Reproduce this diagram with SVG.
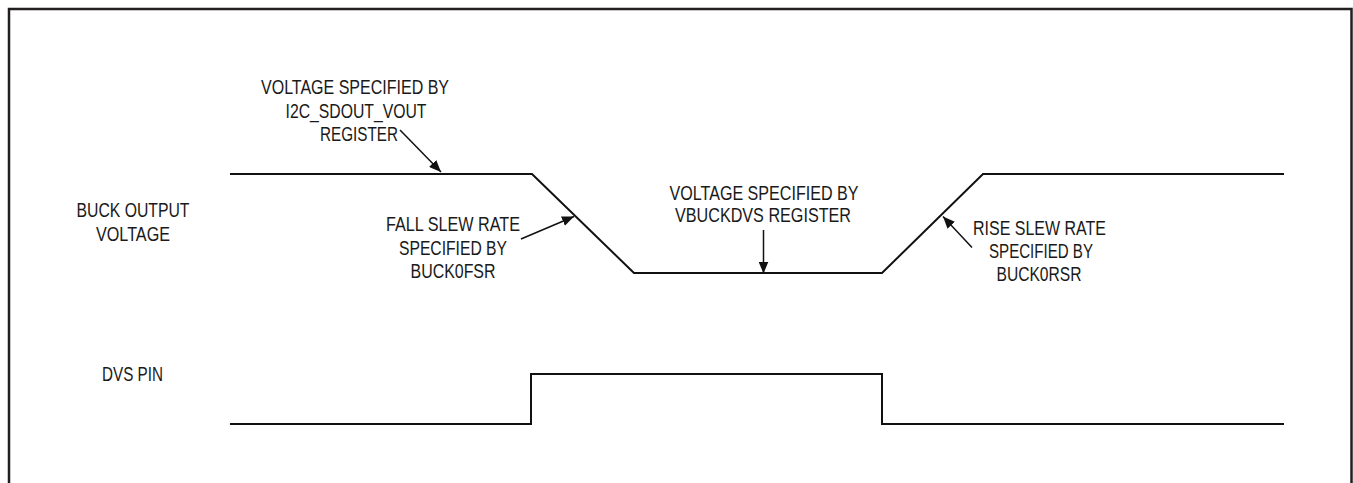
<svg xmlns="http://www.w3.org/2000/svg" width="1353" height="483" viewBox="0 0 1353 483">
<style>
.t{font-family:"Liberation Sans",Arial,sans-serif;font-size:19.5px;fill:#1a1a1a;text-anchor:middle}
.w{fill:none;stroke:#111;stroke-width:2;stroke-linejoin:miter}
.a{fill:none;stroke:#111;stroke-width:1.5}
.f{fill:none;stroke:#231f20;stroke-width:2.5}
</style>
<defs>
<marker id="ah" viewBox="0 0 12 10" refX="12" refY="5" markerWidth="12" markerHeight="10" markerUnits="userSpaceOnUse" orient="auto">
<path d="M0,0 L12,5 L0,10 Z" fill="#111"/>
</marker>
</defs>
<rect width="1353" height="483" fill="#fff"/>
<path class="f" d="M9,490 V9 H1351.5 V490"/>
<g id="buck-waveform">
<path class="w" d="M230,174 H532 L634,273 H882 L983,174 H1284"/>
</g>
<g id="dvs-waveform">
<path class="w" d="M230,424 H531 V374 H882 V424 H1284"/>
</g>
<g id="label-buck">
<text class="t" x="133" y="217" textLength="113" lengthAdjust="spacingAndGlyphs">BUCK OUTPUT</text>
<text class="t" x="133" y="240.5" textLength="74" lengthAdjust="spacingAndGlyphs">VOLTAGE</text>
</g>
<g id="label-dvs">
<text class="t" x="132.5" y="380.5" textLength="61" lengthAdjust="spacingAndGlyphs">DVS PIN</text>
</g>
<g id="note-i2c">
<text class="t" x="355" y="94" textLength="188" lengthAdjust="spacingAndGlyphs">VOLTAGE SPECIFIED BY</text>
<text class="t" x="356" y="117.5" textLength="141" lengthAdjust="spacingAndGlyphs">I2C_SDOUT_VOUT</text>
<text class="t" x="359" y="141" textLength="78" lengthAdjust="spacingAndGlyphs">REGISTER</text>
</g>
<g id="note-fall">
<text class="t" x="453" y="231" textLength="134" lengthAdjust="spacingAndGlyphs">FALL SLEW RATE</text>
<text class="t" x="453" y="255" textLength="108" lengthAdjust="spacingAndGlyphs">SPECIFIED BY</text>
<text class="t" x="453" y="278" textLength="85" lengthAdjust="spacingAndGlyphs">BUCK0FSR</text>
</g>
<g id="note-vbuckdvs">
<text class="t" x="764" y="199.5" textLength="189" lengthAdjust="spacingAndGlyphs">VOLTAGE SPECIFIED BY</text>
<text class="t" x="763" y="222" textLength="176" lengthAdjust="spacingAndGlyphs">VBUCKDVS REGISTER</text>
</g>
<g id="note-rise">
<text class="t" x="1039.5" y="235" textLength="133" lengthAdjust="spacingAndGlyphs">RISE SLEW RATE</text>
<text class="t" x="1041" y="258" textLength="104" lengthAdjust="spacingAndGlyphs">SPECIFIED BY</text>
<text class="t" x="1039" y="281" textLength="85" lengthAdjust="spacingAndGlyphs">BUCK0RSR</text>
</g>
<g id="connectors">
<line class="a" x1="400" y1="130" x2="441" y2="172" marker-end="url(#ah)"/>
<line class="a" x1="521" y1="239" x2="574" y2="216.5" marker-end="url(#ah)"/>
<line class="a" x1="763.5" y1="230" x2="763.5" y2="273.5" marker-end="url(#ah)"/>
<line class="a" x1="972" y1="247.5" x2="943" y2="216.5" marker-end="url(#ah)"/>
</g>
</svg>
